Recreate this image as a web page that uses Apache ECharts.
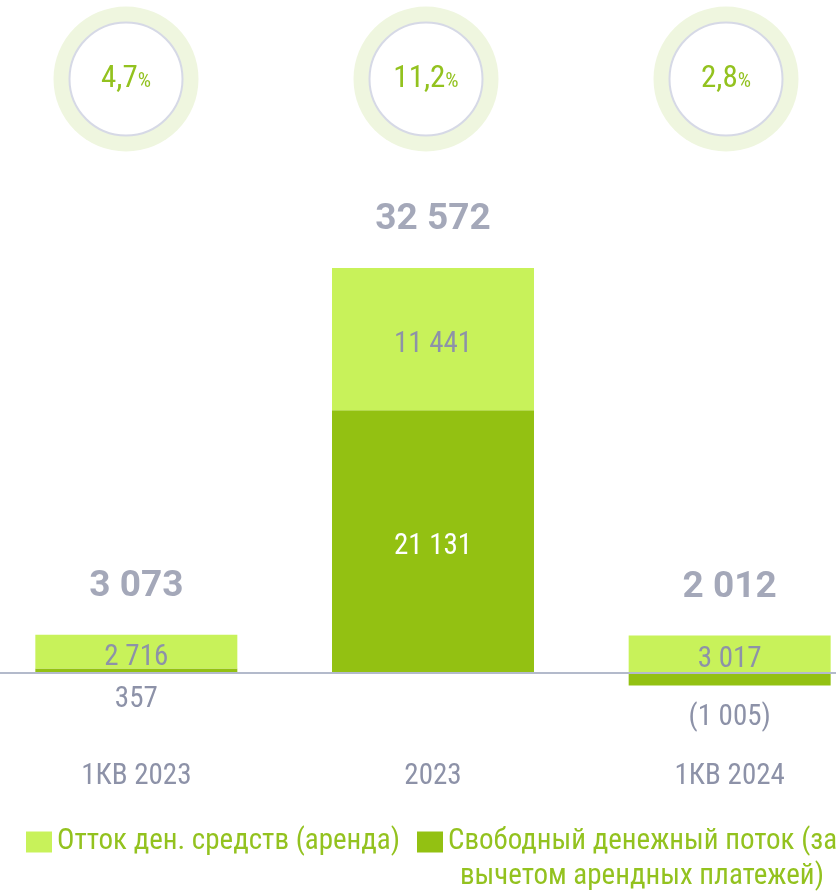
<!DOCTYPE html>
<html>
<head>
<meta charset="utf-8">
<script src="https://cdn.jsdelivr.net/npm/echarts@6/dist/echarts.min.js"></script>
<style>
html, body { margin: 0; padding: 0; background: #fff; }
#chart { width: 836px; height: 891px; }
</style>
</head>
<body>
<div id="chart"></div>
<script>
var categories = ['1КВ 2023', '2023', '1КВ 2024'];
var leaseOut = [2716, 11441, 3017];
var fcfNet = [357, 21131, -1005];
var totals = [3073, 32572, 2012];
var shares = ['4,7', '11,2', '2,8'];
var legendNames = ['Отток ден. средств (аренда)', 'Свободный денежный поток (за вычетом арендных платежей)'];

var FONT = "'Roboto Condensed', Roboto, sans-serif";
var GREY = '#8d92a8';
var LIGHT = '#c8f25a';
var DARK = '#93c112';
var TEXT_GREEN = '#93c21f';

function fmt(v) {
    var s = String(Math.abs(v)).replace(/\B(?=(\d{3})+(?!\d))/g, ' ');
    return v < 0 ? '(' + s + ')' : s;
}

// top of the positive stack, used to hang the total labels
var stackTop = leaseOut.map(function (v, i) {
    return v + Math.max(0, fcfNet[i]);
});

var dom = document.getElementById('chart');
var myChart = echarts.init(dom);

myChart.setOption({
    animation: false,
    title: {
        text: 'вычетом арендных платежей)',
        left: 460,
        top: 862,
        padding: 0,
        textStyle: { fontFamily: FONT, fontSize: 29, fontWeight: 'normal', color: TEXT_GREEN }
    },
    legend: {
        left: 26,
        top: 825,
        width: 1000,
        padding: 0,
        itemGap: 17,
        itemWidth: 26,
        itemHeight: 21,
        icon: 'rect',
        selectedMode: false,
        data: legendNames,
        formatter: function (name) {
            return name === legendNames[1] ? 'Свободный денежный поток (за' : name;
        },
        textStyle: { fontFamily: FONT, fontSize: 29, lineHeight: 34, color: TEXT_GREEN }
    },
    grid: [
        { left: -12, right: -42, top: 175.6, bottom: 93.7, outerBoundsMode: 'none' },
        { left: -24, right: -40, top: 0, height: 158, outerBoundsMode: 'none' }
    ],
    xAxis: [
        {
            type: 'category',
            gridIndex: 0,
            data: categories,
            z: 10,
            axisLine: { lineStyle: { color: '#b3bacb', width: 2 } },
            axisTick: { show: false },
            axisLabel: { margin: -35, fontFamily: FONT, fontSize: 29, color: GREY }
        },
        {
            type: 'category',
            gridIndex: 1,
            data: categories,
            show: false
        }
    ],
    yAxis: [
        { type: 'value', gridIndex: 0, min: -10000, max: 40000, show: false, splitLine: { show: false } },
        { type: 'value', gridIndex: 1, min: 0, max: 1, show: false, splitLine: { show: false } }
    ],
    series: [
        {
            name: legendNames[1],
            type: 'bar',
            stack: 'cf',
            barWidth: 202,
            itemStyle: { color: DARK },
            data: fcfNet.map(function (v, i) {
                return {
                    value: v,
                    label: i === 1
                        ? { position: 'inside', color: '#ffffff', offset: [0, 5] }
                        : { position: 'bottom', distance: v < 0 ? 18 : 12, color: GREY }
                };
            }),
            label: {
                show: true,
                fontFamily: FONT,
                fontSize: 29,
                formatter: function (p) { return fmt(p.value); }
            }
        },
        {
            name: legendNames[0],
            type: 'bar',
            stack: 'cf',
            barWidth: 202,
            itemStyle: { color: LIGHT },
            data: leaseOut,
            label: {
                show: true,
                position: 'inside',
                offset: [0, 6],
                fontFamily: FONT,
                fontSize: 29,
                color: GREY,
                formatter: function (p) { return fmt(p.value); }
            }
        },
        {
            name: 'total',
            type: 'scatter',
            symbolSize: 1,
            itemStyle: { color: 'rgba(0,0,0,0)' },
            data: stackTop,
            label: {
                show: true,
                position: 'top',
                distance: 29,
                fontFamily: 'Roboto, sans-serif',
                fontSize: 37,
                fontWeight: 'bold',
                color: GREY,
                formatter: function (p) { return fmt(totals[p.dataIndex]); }
            }
        },
        {
            name: 'ring',
            type: 'scatter',
            xAxisIndex: 1,
            yAxisIndex: 1,
            symbolSize: 145,
            itemStyle: { color: '#eff6df', opacity: 1 },
            data: shares.map(function () { return 0.5; }),
            silent: true
        },
        {
            name: 'share',
            type: 'scatter',
            xAxisIndex: 1,
            yAxisIndex: 1,
            symbolSize: 113,
            itemStyle: { color: '#ffffff', borderColor: '#d6d9e6', borderWidth: 2, opacity: 1 },
            data: shares.map(function () { return 0.5; }),
            label: {
                show: true,
                position: 'inside',
                formatter: function (p) { return '{n|' + shares[p.dataIndex] + '}{p|%}'; },
                rich: {
                    n: { fontFamily: FONT, fontSize: 31, color: TEXT_GREEN },
                    p: { fontFamily: FONT, fontSize: 21, color: TEXT_GREEN, padding: [5, 0, 0, 0] }
                }
            },
            silent: true
        }
    ]
});
</script>
</body>
</html>
